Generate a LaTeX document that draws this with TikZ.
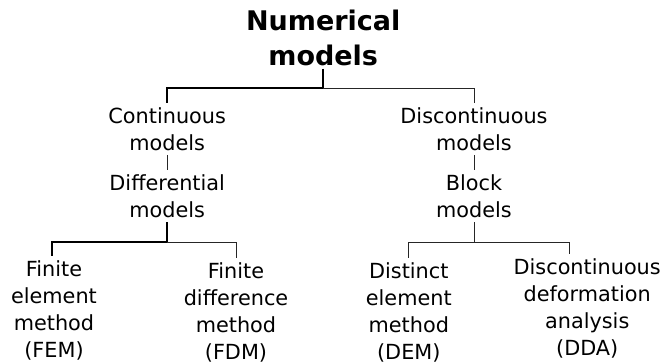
\documentclass[tikz,border=0pt]{standalone}
\usepackage{fontspec}
\setmainfont{DejaVu Sans}
\usepackage{tikz}
\usetikzlibrary{positioning, calc}

\begin{document}
\begin{tikzpicture}[
  every node/.style={font=\fontsize{14.8}{19.2}\selectfont},
  title/.style={
    font=\bfseries\fontsize{19.2}{24.8}\selectfont,
    align=center, inner sep=2pt
  },
  model/.style={align=center, inner sep=3pt},
  branch/.style={line width=0.6pt, color=black!85},
  mainbranch/.style={line width=1.3pt, color=black}
]
  \useasboundingbox (0,0) rectangle (16.6,-9.1);

  % Radice
  \node[title] (num) at (8.08,-0.94) {Numerical\\models};

  % Secondo livello
  \node[model] (cont) at (4.18,-3.22) {Continuous\\models};
  \node[model] (disc) at (11.85,-3.22) {Discontinuous\\models};
  \node[model] (diff) at (4.18,-4.91) {Differential\\models};
  \node[model] (block) at (11.85,-4.91) {Block\\models};

  % Metodi (riga inferiore)
  \node[model] (fem) at (1.35,-7.76) {Finite\\element\\method\\(FEM)};
  \node[model] (fdm) at (5.9,-7.8) {Finite\\difference\\method\\(FDM)};
  \node[model] (dem) at (10.22,-7.8) {Distinct\\element\\method\\(DEM)};
  \node[model] (dda) at (14.68,-7.7) {Discontinuous\\deformation\\analysis\\(DDA)};

  % Rami dalla radice
  \draw[mainbranch] (num.south) |- (cont.north |- 0,-2.2) -- (cont.north);
  \draw[branch] (num.south |- 0,-2.2) -| (disc.north);

  \draw[branch] (cont) -- (diff);
  \draw[branch] (disc) -- (block);

  % Rami verso i metodi
  \draw[mainbranch] (diff.south) |- ([xshift=-0.05cm]fem.north |- 0,-6.05) -- ([xshift=-0.05cm]fem.north);
  \draw[branch] (diff.south |- 0,-6.05) -| (fdm.north);
  \draw[branch] (block.south) |- (dem.north |- 0,-6.05) -- (dem.north);
  \draw[branch] (block.south |- 0,-6.05) -| ([xshift=-0.45cm]dda.north);

\end{tikzpicture}
\end{document}
